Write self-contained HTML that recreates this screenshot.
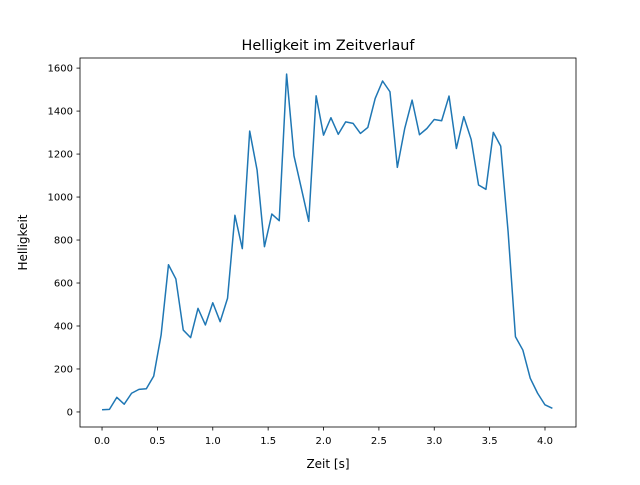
<!DOCTYPE html>
<html><head><meta charset="utf-8"><style>
body{margin:0;background:#fff;font-family:"Liberation Sans","DejaVu Sans",sans-serif;}
</style></head><body>
<svg id="chart" width="640" height="480" xmlns="http://www.w3.org/2000/svg" font-family="DejaVu Sans, Liberation Sans, sans-serif">
<rect width="640" height="480" fill="#fff"/>
<text x="328" y="50" text-anchor="middle" font-size="14.4">Helligkeit im Zeitverlauf</text>
<text x="328" y="468" text-anchor="middle" font-size="12">Zeit [s]</text>
<text transform="translate(27,242.5) rotate(-90)" text-anchor="middle" font-size="12">Helligkeit</text>
<g id="plot"></g>
</svg>
<script>
const values = [10,12,68,36,87,105,108,167,358,685,619,381,346,482,405,508,420,529,915,760,1307,1126,769,921,890,1572,1192,1040,887,1471,1288,1369,1292,1350,1343,1296,1324,1459,1540,1490,1138,1319,1451,1290,1319,1361,1355,1470,1226,1374,1268,1056,1036,1301,1237,840,350,288,157,87,33,17];
const dt = 1/15;
const xTicks = [0,0.5,1.0,1.5,2.0,2.5,3.0,3.5,4.0];
const yTicks = [0,200,400,600,800,1000,1200,1400,1600];

const L=80,R=576,T=58,B=427;
const xMin=-0.199,xMax=4.28,yMin=-70,yMax=1647;
const sx=v=>L+(v-xMin)/(xMax-xMin)*(R-L);
const sy=v=>B-(v-yMin)/(yMax-yMin)*(B-T);
const NS="http://www.w3.org/2000/svg";
const g=document.getElementById('plot');
function mk(t,a){const e=document.createElementNS(NS,t);for(const k in a)e.setAttribute(k,a[k]);g.appendChild(e);return e;}
const pts=values.map((v,i)=>sx(i*dt).toFixed(2)+','+sy(v).toFixed(2)).join(' ');
const line=mk('polyline',{points:pts,fill:'none',stroke:'#1f77b4','stroke-width':1.5,'stroke-linejoin':'round'});


const frame=mk('rect',{x:L,y:T,width:R-L,height:B-T,fill:'none',stroke:'#000','stroke-width':0.8});


xTicks.forEach(t=>{
  const x=sx(t);
  mk('line',{x1:x,x2:x,y1:B,y2:B+3.5,stroke:'#000','stroke-width':0.8});
  const tx=mk('text',{x:x,y:B+17,'text-anchor':'middle','font-size':10});
  tx.textContent=t.toFixed(1);
  
  
});
yTicks.forEach(t=>{
  const y=sy(t);
  mk('line',{x1:L-3.5,x2:L,y1:y,y2:y,stroke:'#000','stroke-width':0.8});
  const tx=mk('text',{x:L-7,y:y+3.5,'text-anchor':'end','font-size':10});
  tx.textContent=t;
  
  
});
</script>
</body></html>
